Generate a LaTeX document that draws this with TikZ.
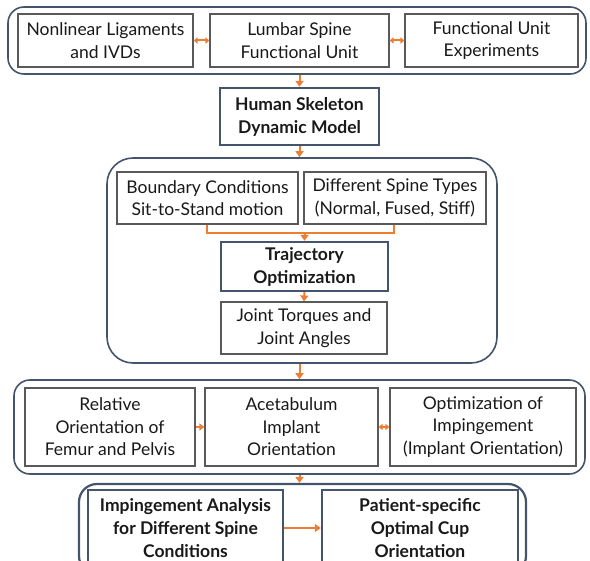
\documentclass[tikz,border=0pt]{standalone}
\usepackage{fontspec}
\setmainfont{Lato}
\usetikzlibrary{arrows.meta,calc}
\definecolor{orng}{HTML}{ED7D31}
\definecolor{slate}{HTML}{44546A}
\definecolor{boxgray}{HTML}{595959}
\tikzset{
  container/.style={draw=slate,line width=1.6pt,rounded corners=16pt,inner sep=0pt},
  plainbox/.style={draw=boxgray,line width=1.1pt,fill=white,align=center,inner sep=0pt,
    font=\fontsize{17.5}{22.5}\selectfont,text=black!90},
  keybox/.style={draw=slate,line width=2.4pt,fill=white,align=center,inner sep=0pt,
    font=\fontsize{17.5}{23}\selectfont\bfseries,text=black!90},
  flow/.style={draw=orng,line width=2pt,-{Triangle[width=8pt,length=6pt]}},
  link/.style={draw=orng,line width=2pt},
  dflow/.style={draw=orng,line width=2pt,{Triangle[width=6pt,length=4pt]}-{Triangle[width=6pt,length=4pt]}}
}
\begin{document}
\begin{tikzpicture}[x=1pt,y=-1pt]
\useasboundingbox (0,0) rectangle (590,561);
\clip (0,0) rectangle (590,561);
% top group
\node[container,minimum width=578,minimum height=67] (c1) at (297,40.5) {};
\node[plainbox,minimum width=175,minimum height=53] (n1) at (105.5,40.5) {Nonlinear Ligaments\\and IVDs};
\node[plainbox,minimum width=179,minimum height=53] (n2) at (299.5,40.5) {Lumbar Spine\\Functional Unit};
\node[plainbox,minimum width=173,minimum height=53] (n3) at (491.5,40.5) {Functional Unit\\Experiments};
\draw[dflow] (n1.east) -- (n2.west);
\draw[dflow] (n2.east) -- (n3.west);
% skeleton model
\node[keybox,minimum width=159,minimum height=57] (hs) at (299.5,116.5) {Human Skeleton\\Dynamic Model};
\draw[flow] (c1.south -| hs.south) -- (hs.north);
% second group
\node[container,rounded corners=26pt,minimum width=390,minimum height=205] (c2) at (302,260.5) {};
\draw[flow] (hs.south) -- (hs.south |- c2.north);
\node[plainbox,minimum width=181,minimum height=52] (bc) at (207.5,198) {Boundary Conditions\\Sit-to-Stand motion};
\node[plainbox,minimum width=182,minimum height=52] (st) at (395,198) {Different Spine Types\\(Normal, Fused, Stiff)};
\node[keybox,minimum width=167,minimum height=49] (to) at (304.5,266.5) {Trajectory\\Optimization};
\node[plainbox,minimum width=166,minimum height=52] (jt) at (304,328) {Joint Torques and\\Joint Angles};
\coordinate (jl) at (207,233);
\coordinate (jr) at (394,233);
\coordinate (jm) at (304.5,233);
\draw[link] (bc.south -| jl) -- (jl) -- (jr) -- (st.south -| jr);
\draw[flow] (jm) -- (to.north);
\draw[flow] (to.south) -- (jt.north);
% third group
\node[container,minimum width=571,minimum height=94] (c3) at (299.5,427) {};
\draw[flow] (c2.south -| hs.south) -- (c3.north -| hs.south);
\node[plainbox,minimum width=170,minimum height=78] (r1) at (110,427) {Relative\\Orientation of\\Femur and Pelvis};
\node[plainbox,minimum width=173,minimum height=78] (r2) at (291.5,427) {Acetabulum\\Implant\\Orientation};
\node[plainbox,minimum width=186,minimum height=78] (r3) at (483,427) {Optimization of\\Impingement\\(Implant Orientation)};
\draw[flow,-{Triangle[width=7pt,length=5pt]}] (r1.east) -- (r2.west);
\draw[dflow] (r2.east) -- (r3.west);
% bottom group
\node[container,rounded corners=18pt,line width=2.2pt,minimum width=447,minimum height=90] (c4) at (302.5,529) {};
\draw[flow] (c3.south -| hs.south) -- (c4.north -| hs.south);
\node[keybox,minimum width=195,minimum height=76] (b1) at (185.5,528) {Impingement Analysis\\for Different Spine\\Conditions};
\node[keybox,minimum width=196,minimum height=76] (b2) at (420,528) {Patient-specific\\Optimal Cup\\Orientation};
\draw[flow] (b1.east) -- (b2.west);
\end{tikzpicture}
\end{document}
